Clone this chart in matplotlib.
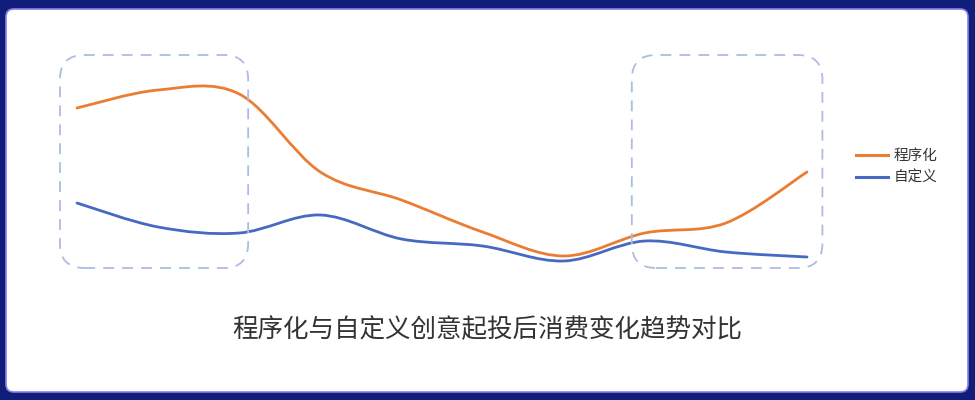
import numpy as np
import matplotlib.pyplot as plt
from matplotlib.path import Path
from matplotlib.patches import PathPatch, FancyBboxPatch
from matplotlib.lines import Line2D

plt.rcParams['font.family'] = ['Noto Sans CJK SC', 'DejaVu Sans']

# data (arbitrary units)
idx = np.arange(10)
programmatic = [172, 190, 186, 108, 80, 48, 24, 47, 57, 108]   # 程序化
custom = [77, 53, 47, 65, 41, 34, 19, 39, 28, 23]              # 自定义
series_names = ['程序化', '自定义']
title = '程序化与自定义创意起投后消费变化趋势对比'

# dashed highlight boxes (x extents in index units)
box_spans = [(-0.21, 2.11), (6.84, 9.19)]

orange = '#ea7d33'
blue = '#4669c2'

W, H = 975, 400
fig = plt.figure(figsize=(W / 100, H / 100), dpi=100)
fig.patch.set_facecolor('#111d7a')

# white card
card = FancyBboxPatch((6 / W, 8 / H), 962 / W, 383 / H,
                      boxstyle='round,pad=0,rounding_size=0.008',
                      mutation_aspect=W / H, transform=fig.transFigure,
                      facecolor='white', edgecolor='#8a7fe8', lw=1.2, zorder=-5)
fig.patches.append(card)

ax = fig.add_axes([77 / W, 0.3, 730 / W, 0.6])
ax.set_xlim(0, 9)
ax.set_ylim(0, 240)
ax.axis('off')
ax.patch.set_alpha(0)

sx = 730 / 9.0   # px per x unit


def smooth_path(xs, ys):
    # catmull-rom curve through the points, as cubic bezier segments
    p = np.column_stack([xs, ys]).astype(float)
    ext = np.vstack([p[0], p, p[-1]])
    verts = [tuple(p[0])]
    codes = [Path.MOVETO]
    for i in range(len(p) - 1):
        c1 = p[i] + (ext[i + 2] - ext[i]) / 6.0
        c2 = p[i + 1] - (ext[i + 3] - ext[i + 1]) / 6.0
        verts += [tuple(c1), tuple(c2), tuple(p[i + 1])]
        codes += [Path.CURVE4] * 3
    return Path(verts, codes)


for ys, c in [(programmatic, orange), (custom, blue)]:
    ax.add_patch(PathPatch(smooth_path(idx, ys), facecolor='none', edgecolor=c,
                           lw=2.0, capstyle='round', joinstyle='round', clip_on=False))

for x0, x1 in box_spans:
    box = FancyBboxPatch((x0, 12), x1 - x0, 213,
                         boxstyle='round,pad=0,rounding_size=0.3', mutation_aspect=sx,
                         facecolor='none', edgecolor='#adbce4', lw=1.3,
                         linestyle=(0, (6, 4.5)), clip_on=False)
    ax.add_patch(box)

handles = [Line2D([], [], color=orange, lw=2.2), Line2D([], [], color=blue, lw=2.2)]
fig.legend(handles, series_names, loc='upper left', bbox_to_anchor=(856 / W, 1 - 149 / H),
           frameon=False, fontsize=10.5, handlelength=2.2, handletextpad=0.35,
           labelspacing=0.55, borderpad=0, borderaxespad=0, labelcolor='#333333')

fig.text(0.5, 1 - 330 / H, title, ha='center', va='center', fontsize=18.4, color='#333333')

fig.savefig('out.png', dpi=100, facecolor=fig.get_facecolor())
